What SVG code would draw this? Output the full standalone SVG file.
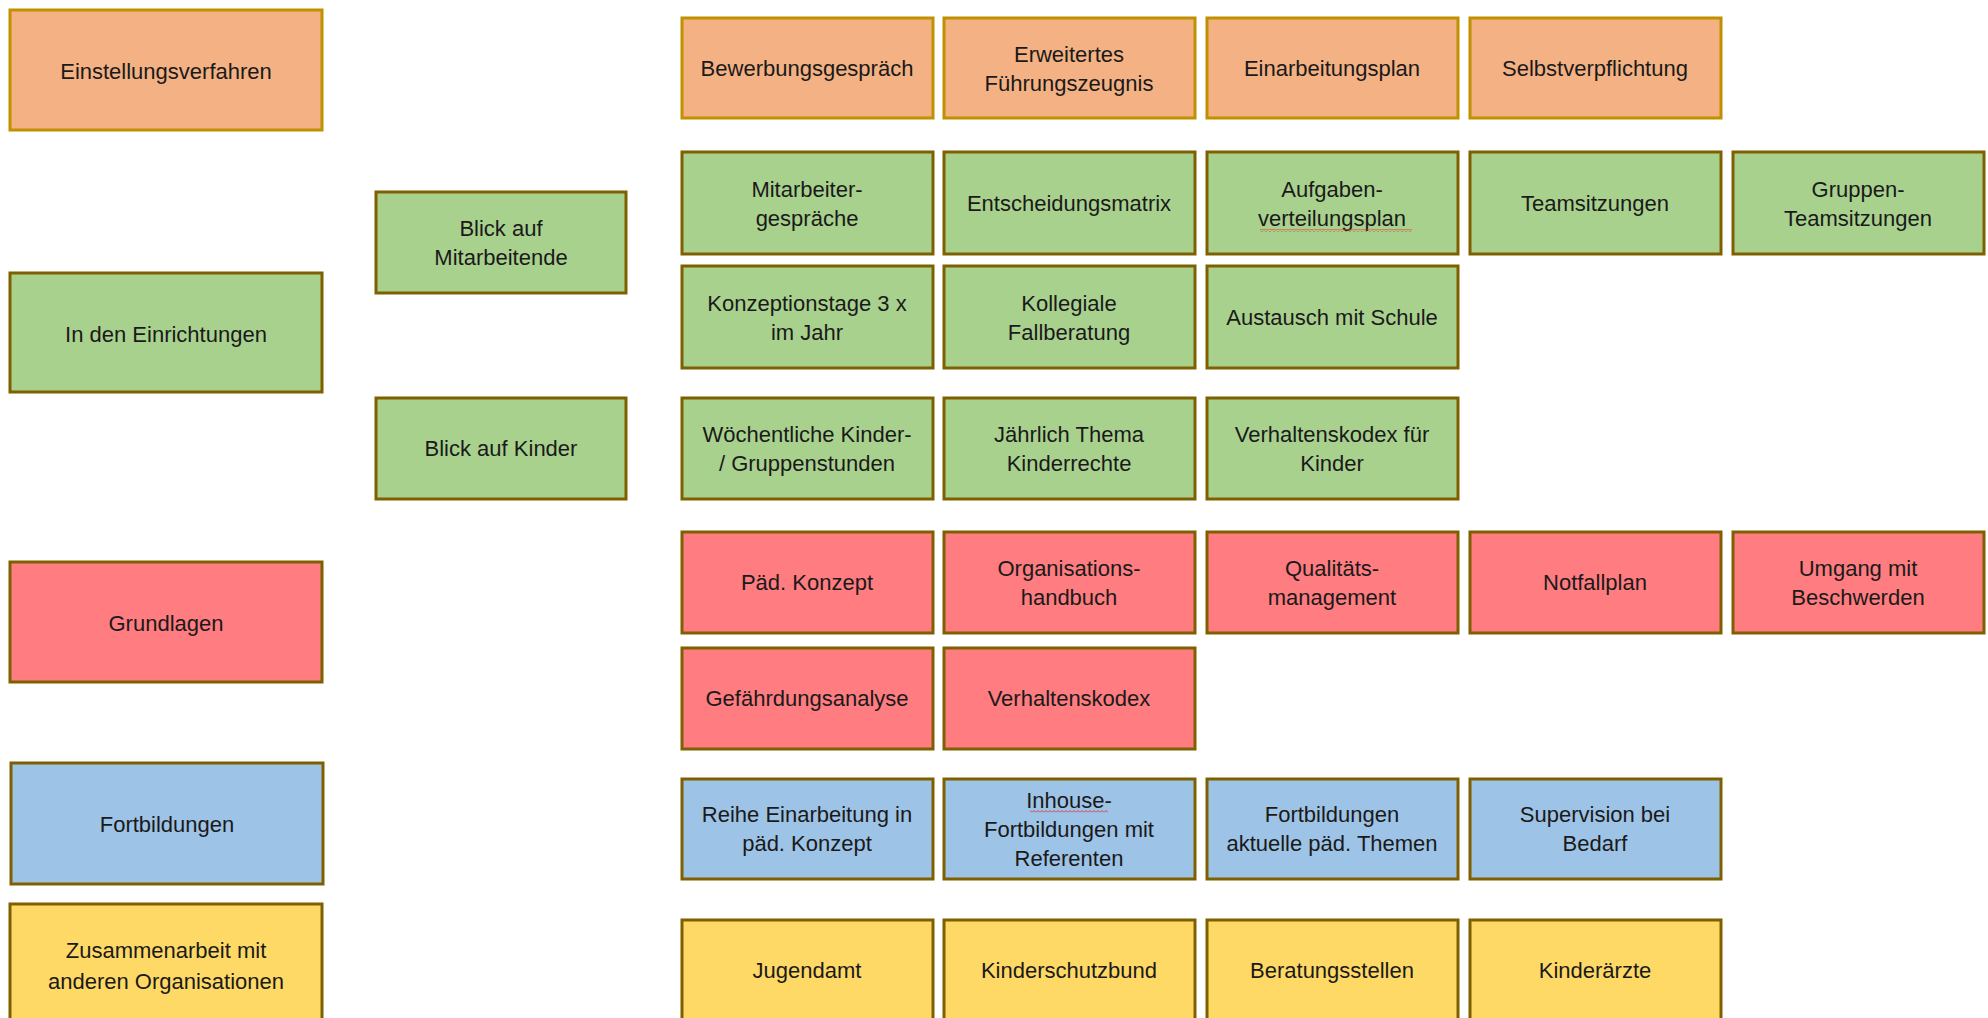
<svg xmlns="http://www.w3.org/2000/svg" width="1988" height="1018" viewBox="0 0 1988 1018">
<style>
  rect.box { stroke-width: 3; }
  .orange { fill: #F4B183; stroke: #BF9000; }
  .green { fill: #A9D18E; stroke: #7F6000; }
  .red { fill: #FF7C80; stroke: #7F6000; }
  .blue { fill: #9DC3E6; stroke: #7F6000; }
  .yellow { fill: #FFD966; stroke: #7F6000; }
  text { font-family: "Liberation Sans", Arial, sans-serif; font-size: 22px; fill: #1a1a1a; text-anchor: middle; }
</style>
<defs>
  <pattern id="squiggle" x="0" y="0" width="4" height="3" patternUnits="userSpaceOnUse">
    <path d="M0 2.5 L2 0.5 L4 2.5" fill="none" stroke="#E03030" stroke-width="0.9"/>
  </pattern>
</defs>
<rect width="1988" height="1018" fill="#FFFFFF"/>
<g id="connectors"></g>

<!-- Left category column -->
<g id="einstellungsverfahren"><rect class="box orange" x="10" y="10" width="312" height="120"/><text x="166" y="79">Einstellungsverfahren</text></g>
<g id="in-den-einrichtungen"><rect class="box green" x="10" y="273" width="312" height="119"/><text x="166" y="342">In den Einrichtungen</text></g>
<g id="grundlagen"><rect class="box red" x="10" y="562" width="312" height="120"/><text x="166" y="631">Grundlagen</text></g>
<g id="fortbildungen"><rect class="box blue" x="11" y="763" width="312" height="121"/><text x="167" y="832">Fortbildungen</text></g>
<g id="zusammenarbeit"><rect class="box yellow" x="10" y="904" width="312" height="120"/><text x="166" y="958"><tspan x="166">Zusammenarbeit mit</tspan><tspan x="166" dy="31">anderen Organisationen</tspan></text></g>

<!-- Sub-categories -->
<g id="blick-mitarbeitende"><rect class="box green" x="376" y="192" width="250" height="101"/><text x="501" y="236"><tspan x="501">Blick auf</tspan><tspan x="501" dy="29">Mitarbeitende</tspan></text></g>
<g id="blick-kinder"><rect class="box green" x="376" y="398" width="250" height="101"/><text x="501" y="456">Blick auf Kinder</text></g>

<!-- Einstellungsverfahren row -->
<g id="bewerbungsgespraech"><rect class="box orange" x="682" y="18" width="251" height="100"/><text x="807" y="76">Bewerbungsgespräch</text></g>
<g id="fuehrungszeugnis"><rect class="box orange" x="944" y="18" width="251" height="100"/><text x="1069" y="62"><tspan x="1069">Erweitertes</tspan><tspan x="1069" dy="29">Führungszeugnis</tspan></text></g>
<g id="einarbeitungsplan"><rect class="box orange" x="1207" y="18" width="251" height="100"/><text x="1332" y="76">Einarbeitungsplan</text></g>
<g id="selbstverpflichtung"><rect class="box orange" x="1470" y="18" width="251" height="100"/><text x="1595" y="76">Selbstverpflichtung</text></g>

<!-- Mitarbeitende rows -->
<g id="mitarbeitergespraeche"><rect class="box green" x="682" y="152" width="251" height="102"/><text x="807" y="197"><tspan x="807">Mitarbeiter-</tspan><tspan x="807" dy="29">gespräche</tspan></text></g>
<g id="entscheidungsmatrix"><rect class="box green" x="944" y="152" width="251" height="102"/><text x="1069" y="211">Entscheidungsmatrix</text></g>
<g id="aufgabenverteilungsplan"><rect class="box green" x="1207" y="152" width="251" height="102"/><text x="1332" y="197"><tspan x="1332">Aufgaben-</tspan><tspan x="1332" dy="29">verteilungsplan</tspan></text><rect x="1260" y="229" width="152" height="3" fill="url(#squiggle)"/></g>
<g id="teamsitzungen"><rect class="box green" x="1470" y="152" width="251" height="102"/><text x="1595" y="211">Teamsitzungen</text></g>
<g id="gruppen-teamsitzungen"><rect class="box green" x="1733" y="152" width="251" height="102"/><text x="1858" y="197"><tspan x="1858">Gruppen-</tspan><tspan x="1858" dy="29">Teamsitzungen</tspan></text></g>

<g id="konzeptionstage"><rect class="box green" x="682" y="266" width="251" height="102"/><text x="807" y="311"><tspan x="807">Konzeptionstage 3 x</tspan><tspan x="807" dy="29">im Jahr</tspan></text></g>
<g id="kollegiale-fallberatung"><rect class="box green" x="944" y="266" width="251" height="102"/><text x="1069" y="311"><tspan x="1069">Kollegiale</tspan><tspan x="1069" dy="29">Fallberatung</tspan></text></g>
<g id="austausch-schule"><rect class="box green" x="1207" y="266" width="251" height="102"/><text x="1332" y="325">Austausch mit Schule</text></g>

<!-- Kinder row -->
<g id="gruppenstunden"><rect class="box green" x="682" y="398" width="251" height="101"/><text x="807" y="442"><tspan x="807">Wöchentliche Kinder-</tspan><tspan x="807" dy="29">/ Gruppenstunden</tspan></text></g>
<g id="kinderrechte"><rect class="box green" x="944" y="398" width="251" height="101"/><text x="1069" y="442"><tspan x="1069">Jährlich Thema</tspan><tspan x="1069" dy="29">Kinderrechte</tspan></text></g>
<g id="verhaltenskodex-kinder"><rect class="box green" x="1207" y="398" width="251" height="101"/><text x="1332" y="442"><tspan x="1332">Verhaltenskodex für</tspan><tspan x="1332" dy="29">Kinder</tspan></text></g>

<!-- Grundlagen rows -->
<g id="paed-konzept"><rect class="box red" x="682" y="532" width="251" height="101"/><text x="807" y="590">Päd. Konzept</text></g>
<g id="organisationshandbuch"><rect class="box red" x="944" y="532" width="251" height="101"/><text x="1069" y="576"><tspan x="1069">Organisations-</tspan><tspan x="1069" dy="29">handbuch</tspan></text></g>
<g id="qualitaetsmanagement"><rect class="box red" x="1207" y="532" width="251" height="101"/><text x="1332" y="576"><tspan x="1332">Qualitäts-</tspan><tspan x="1332" dy="29">management</tspan></text></g>
<g id="notfallplan"><rect class="box red" x="1470" y="532" width="251" height="101"/><text x="1595" y="590">Notfallplan</text></g>
<g id="beschwerden"><rect class="box red" x="1733" y="532" width="251" height="101"/><text x="1858" y="576"><tspan x="1858">Umgang mit</tspan><tspan x="1858" dy="29">Beschwerden</tspan></text></g>

<g id="gefaehrdungsanalyse"><rect class="box red" x="682" y="648" width="251" height="101"/><text x="807" y="706">Gefährdungsanalyse</text></g>
<g id="verhaltenskodex"><rect class="box red" x="944" y="648" width="251" height="101"/><text x="1069" y="706">Verhaltenskodex</text></g>

<!-- Fortbildungen row -->
<g id="reihe-einarbeitung"><rect class="box blue" x="682" y="779" width="251" height="100"/><text x="807" y="822"><tspan x="807">Reihe Einarbeitung in</tspan><tspan x="807" dy="29">päd. Konzept</tspan></text></g>
<g id="inhouse-fortbildungen"><rect class="box blue" x="944" y="779" width="251" height="100"/><text x="1069" y="808"><tspan x="1069">Inhouse-</tspan><tspan x="1069" dy="29">Fortbildungen mit</tspan><tspan x="1069" dy="29">Referenten</tspan></text><rect x="1030" y="810" width="78" height="3" fill="url(#squiggle)"/></g>
<g id="fortbildungen-aktuell"><rect class="box blue" x="1207" y="779" width="251" height="100"/><text x="1332" y="822"><tspan x="1332">Fortbildungen</tspan><tspan x="1332" dy="29">aktuelle päd. Themen</tspan></text></g>
<g id="supervision"><rect class="box blue" x="1470" y="779" width="251" height="100"/><text x="1595" y="822"><tspan x="1595">Supervision bei</tspan><tspan x="1595" dy="29">Bedarf</tspan></text></g>

<!-- Zusammenarbeit row -->
<g id="jugendamt"><rect class="box yellow" x="682" y="920" width="251" height="100"/><text x="807" y="978">Jugendamt</text></g>
<g id="kinderschutzbund"><rect class="box yellow" x="944" y="920" width="251" height="100"/><text x="1069" y="978">Kinderschutzbund</text></g>
<g id="beratungsstellen"><rect class="box yellow" x="1207" y="920" width="251" height="100"/><text x="1332" y="978">Beratungsstellen</text></g>
<g id="kinderaerzte"><rect class="box yellow" x="1470" y="920" width="251" height="100"/><text x="1595" y="978">Kinderärzte</text></g>
</svg>
